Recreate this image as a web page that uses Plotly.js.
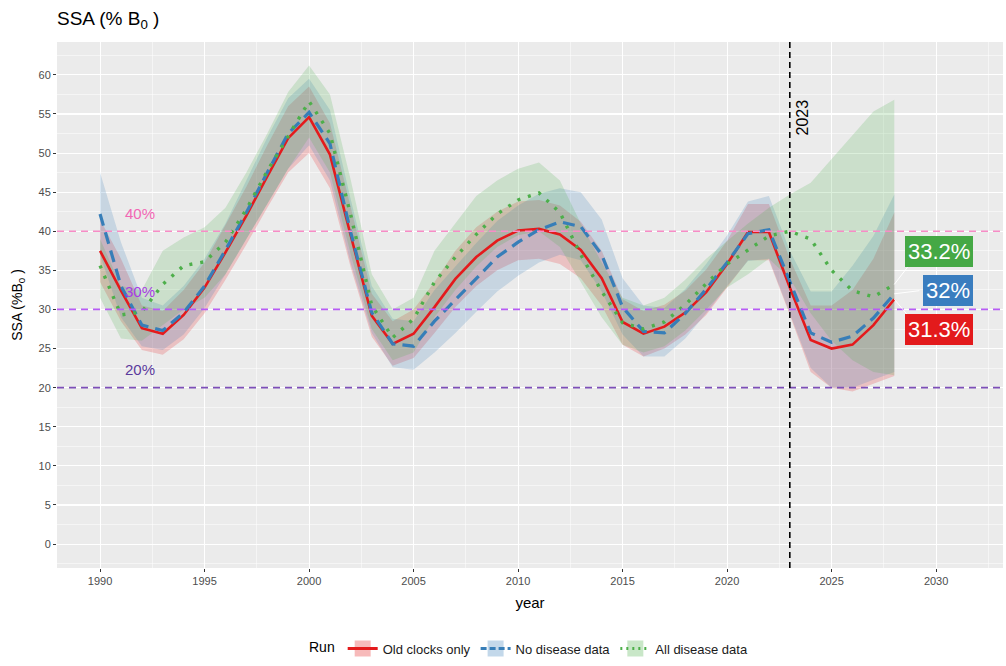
<!DOCTYPE html>
<html><head><meta charset="utf-8">
<script src="https://cdn.plot.ly/plotly-3.0.1.min.js"></script>
<style>html,body{margin:0;padding:0;background:#fff}#chart{width:1006px;height:666px}</style>
</head><body><div id="chart"></div>
<script>
// ---------- data ----------
const years = [1990,1991,1992,1993,1994,1995,1996,1997,1998,1999,2000,2001,2002,2003,2004,2005,2006,2007,2008,2009,2010,2011,2012,2013,2014,2015,2016,2017,2018,2019,2020,2021,2022,2023,2024,2025,2026,2027,2028];

const oldClocks = [37.5,32.4,27.6,26.9,29.3,32.8,37.3,42.0,47.0,51.9,54.6,49.8,39.4,29.2,25.6,26.9,30.3,33.9,36.7,38.8,40.1,40.3,39.6,37.6,34.0,28.4,26.9,27.8,29.6,32.2,35.8,39.9,39.9,32.8,26.1,25.0,25.5,28.0,31.3];
const oldLo = [33.5,28.5,24.8,24.2,26.2,29.5,33.8,38.3,43.0,47.5,50.0,45.5,35.3,26.5,22.8,23.8,27.0,30.3,33.0,35.0,36.3,36.5,35.8,34.0,30.5,25.5,24.0,25.0,26.8,29.3,32.8,36.3,36.3,29.3,22.0,20.0,19.5,20.5,21.5];
const oldHi = [41.5,36.5,30.5,29.8,32.5,36.0,40.8,45.7,51.0,56.0,58.5,53.8,43.0,32.0,28.5,30.0,33.5,37.5,40.5,42.5,43.8,44.0,43.3,41.2,37.5,31.3,29.8,30.6,32.4,35.1,38.8,43.5,43.5,36.5,30.5,30.5,32.5,36.5,42.4];

const noDisease = [42.2,33.0,28.0,27.3,29.6,33.0,37.6,42.4,47.5,52.5,55.2,51.2,39.8,29.6,25.6,25.3,28.5,31.2,34.0,36.7,38.6,40.2,41.2,40.6,37.0,30.3,27.2,27.0,29.5,32.6,36.0,39.7,40.2,33.5,27.0,25.8,26.6,28.9,32.0];
const noLo = [37.0,29.0,25.3,24.8,26.8,30.2,34.5,39.0,43.5,48.0,51.0,46.5,35.8,27.0,22.6,22.3,24.5,27.0,29.7,32.3,34.3,36.0,37.0,36.3,32.3,26.8,24.0,24.0,26.3,29.5,33.0,36.2,36.5,29.5,22.5,20.0,20.0,21.0,22.0];
const noHi = [47.5,38.6,31.5,30.5,33.0,36.5,41.0,46.5,52.0,57.0,59.5,55.5,44.0,33.0,28.8,28.5,32.5,35.5,38.5,41.3,43.3,44.8,45.5,45.0,41.5,34.0,30.5,30.2,32.6,35.8,39.5,43.8,44.5,37.5,32.3,32.3,35.6,39.4,44.7];

const allDisease = [35.6,29.3,29.7,33.2,35.6,36.1,38.6,42.8,47.7,52.1,56.6,52.5,42.0,30.5,26.4,28.8,33.5,36.7,39.6,42.2,44.0,44.9,42.4,37.0,32.3,28.3,27.5,28.4,30.6,33.3,35.8,37.6,39.4,40.0,39.0,35.0,32.4,31.6,33.2];
const allLo = [31.5,26.3,26.0,28.0,30.0,31.5,34.5,39.0,43.5,48.0,52.0,47.5,37.0,27.5,23.5,24.5,29.0,32.5,35.5,38.0,39.5,40.0,38.0,33.5,29.0,25.5,24.5,25.3,27.3,30.0,32.8,34.5,36.5,34.0,29.5,26.0,23.5,22.0,21.6];
const allHi = [39.0,33.0,32.5,37.5,39.2,40.5,43.0,47.5,52.5,57.8,61.2,57.5,46.5,34.5,30.0,31.5,37.5,41.0,44.5,46.5,48.0,48.8,46.5,41.0,36.0,31.5,30.5,31.5,33.8,36.5,38.8,41.0,43.0,44.7,46.2,49.2,52.3,55.3,56.8];

const runNames = ['Old clocks only','No disease data','All disease data'];
const refLevels = [40, 30, 20];
const refLabels = ['40%','30%','20%'];
const markerYear = 2023;
const xTicks = [1990,1995,2000,2005,2010,2015,2020,2025,2030];

// ---------- styles ----------
const lineCols = ['#E41A1C','#377EB8','#4DAF4A'];
const fillCols = ['rgba(228,26,28,0.2)','rgba(55,126,184,0.2)','rgba(77,175,74,0.2)'];
const boxCols = ['#E31A1C','#3A7DBF','#45A845'];
const dashes = ['solid','12px,7px','3px,8px'];
const widths = [2.6,3.2,3.4];
const refCols = ['#F78CC6','#B75CF5','#7D4FB8'];
const refTextCols = ['#F266B4','#A83BE6','#5B3A9C'];
const font = 'Liberation Sans, Arial, sans-serif';

const series = [oldClocks, noDisease, allDisease];
const los = [oldLo, noLo, allLo];
const his = [oldHi, noHi, allHi];

const traces = [];
for (let i = 0; i < 3; i++) {
  traces.push({x: years, y: los[i], mode: 'lines', line: {width: 0}, showlegend: false, hoverinfo: 'skip'});
  traces.push({x: years, y: his[i], mode: 'lines', line: {width: 0}, fill: 'tonexty', fillcolor: fillCols[i], showlegend: false, hoverinfo: 'skip'});
}
for (let i = 0; i < 3; i++) {
  traces.push({x: years, y: series[i], mode: 'lines', line: {color: lineCols[i], width: widths[i], dash: dashes[i]}, showlegend: false, hoverinfo: 'skip'});
}
for (let i = 0; i < 3; i++) {
  traces.push({x: [null], y: [null], name: runNames[i], mode: 'lines+markers',
    line: {color: lineCols[i], width: 3, dash: i === 0 ? 'solid' : (i === 1 ? '6px,3px' : '2px,4px')},
    marker: {symbol: 'square', size: 16, color: fillCols[i].replace('0.2)', '0.3)'), line: {width: 0}},
    showlegend: true, hoverinfo: 'skip'});
}

const shapes = [];
const annotations = [];
refLevels.forEach((lv, i) => {
  shapes.push({type: 'line', xref: 'paper', x0: 0, x1: 1, yref: 'y', y0: lv, y1: lv,
    line: {color: refCols[i], width: 1.7, dash: '7px,5px'}});
  annotations.push({x: 1991.9, y: lv + 2.3, text: refLabels[i], showarrow: false,
    font: {family: font, size: 15, color: refTextCols[i]}, xanchor: 'center', yanchor: 'middle'});
});
shapes.push({type: 'line', xref: 'x', x0: markerYear, x1: markerYear, yref: 'paper', y0: 0, y1: 1,
  line: {color: '#000', width: 1.6, dash: '6px,4px'}});
annotations.push({x: markerYear + 0.6, y: 54.6, text: String(markerYear), textangle: -90, showarrow: false,
  font: {family: font, size: 16, color: '#000'}, xanchor: 'center', yanchor: 'middle'});

// end labels
const lastIdx = years.length - 1;
const labelOffsets = [-3.8, 0.4, 4.2];
const labelX = years[lastIdx] + 3.75;
for (let i = 0; i < 3; i++) {
  const v = series[i][lastIdx];
  const ly = v + labelOffsets[i];
  shapes.push({type: 'line', xref: 'x', yref: 'y', x0: years[lastIdx], y0: v, x1: years[lastIdx] + 1.2, y1: ly,
    line: {color: '#FFFFFF', width: 1}});
  annotations.push({x: labelX, y: ly, text: (Math.round(v * 10) / 10) + '%', showarrow: false,
    xanchor: 'right', yanchor: 'middle', bgcolor: boxCols[i], bordercolor: boxCols[i], borderpad: 2,
    font: {family: font, size: 22, color: '#FFFFFF'}});
}

const layout = {
  width: 1006, height: 666,
  margin: {l: 57, r: 3, t: 42, b: 95},
  paper_bgcolor: '#FFFFFF', plot_bgcolor: '#EBEBEB',
  font: {family: font, color: '#1A1A1A'},
  title: {text: 'SSA (% B<sub>0</sub> )', x: 0, xanchor: 'left', xref: 'paper', y: 0.973, yanchor: 'middle',
    font: {family: font, size: 19, color: '#000'}},
  xaxis: {range: [1987.94, 2033.2], tickvals: xTicks, ticks: 'outside', ticklen: 3, tickcolor: '#333',
    tickfont: {family: font, size: 11, color: '#4D4D4D'}, showgrid: true, gridcolor: '#FFFFFF', gridwidth: 1.1,
    minor: {tick0: 1987.5, dtick: 2.5, showgrid: true, gridcolor: '#FFFFFF', gridwidth: 0.5, ticks: ''},
    zeroline: false, showline: false,
    title: {text: 'year', standoff: 11, font: {family: font, size: 15, color: '#000'}}},
  yaxis: {range: [-3.06, 64.2], tick0: 0, dtick: 5, ticks: 'outside', ticklen: 3, tickcolor: '#333',
    tickfont: {family: font, size: 11, color: '#4D4D4D'}, showgrid: true, gridcolor: '#FFFFFF', gridwidth: 1.1,
    minor: {tick0: 2.5, dtick: 5, showgrid: true, gridcolor: '#FFFFFF', gridwidth: 0.5, ticks: ''},
    zeroline: false, showline: false,
    title: {text: 'SSA (%B<sub>0</sub> )', standoff: 12, font: {family: font, size: 14, color: '#000'}}},
  showlegend: true,
  legend: {orientation: 'h', traceorder: 'normal', x: 0.5, xanchor: 'center', y: -0.153, yanchor: 'middle',
    title: {text: 'Run', side: 'left', font: {family: font, size: 14, color: '#000'}},
    font: {family: font, size: 13, color: '#1A1A1A'}, bgcolor: 'rgba(0,0,0,0)', itemwidth: 30},
  shapes: shapes,
  annotations: annotations,
  hovermode: false
};

Plotly.newPlot('chart', traces, layout, {displayModeBar: false, staticPlot: true});
</script></body></html>
